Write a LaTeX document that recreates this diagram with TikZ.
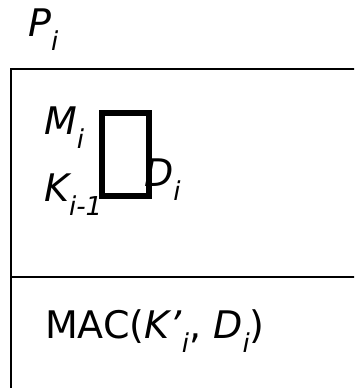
\documentclass[tikz,border=0pt]{standalone}
\usepackage{fontspec}
\setmainfont{DejaVu Sans}
\newcommand{\sbs}[1]{\raisebox{-0.38em}{\fontsize{26}{30}\selectfont\itshape #1}}
\begin{document}
\begin{tikzpicture}[x=1pt,y=-1pt,
  lbl/.style={anchor=base west,inner sep=0pt,font=\fontsize{38}{44}\selectfont}]
\useasboundingbox (0,0) rectangle (354,388);
\clip (0,0) rectangle (354,388);
% record frame and divider
\draw[line width=2pt] (11,69) rectangle (380,410);
\draw[line width=2pt] (11,277) -- (380,277);
% labels
\node[lbl] (p) at (28,36) {\itshape P\sbs{i}};
\node[lbl] (m) at (44,134) {\itshape M\sbs{i}};
\node[lbl] (k) at (44,201) {\itshape K\sbs{i-1}};
\node[lbl] (d) at (144,186) {\itshape D\sbs{i}};
\node[draw,line width=6pt,minimum width=47pt,minimum height=83pt,inner sep=0pt] (g) at (125.5,154.5) {};
\node[lbl] (mac) at (45,338) {MAC(\textit{K’}\sbs{i}, \textit{D}\sbs{i})};
\end{tikzpicture}
\end{document}
